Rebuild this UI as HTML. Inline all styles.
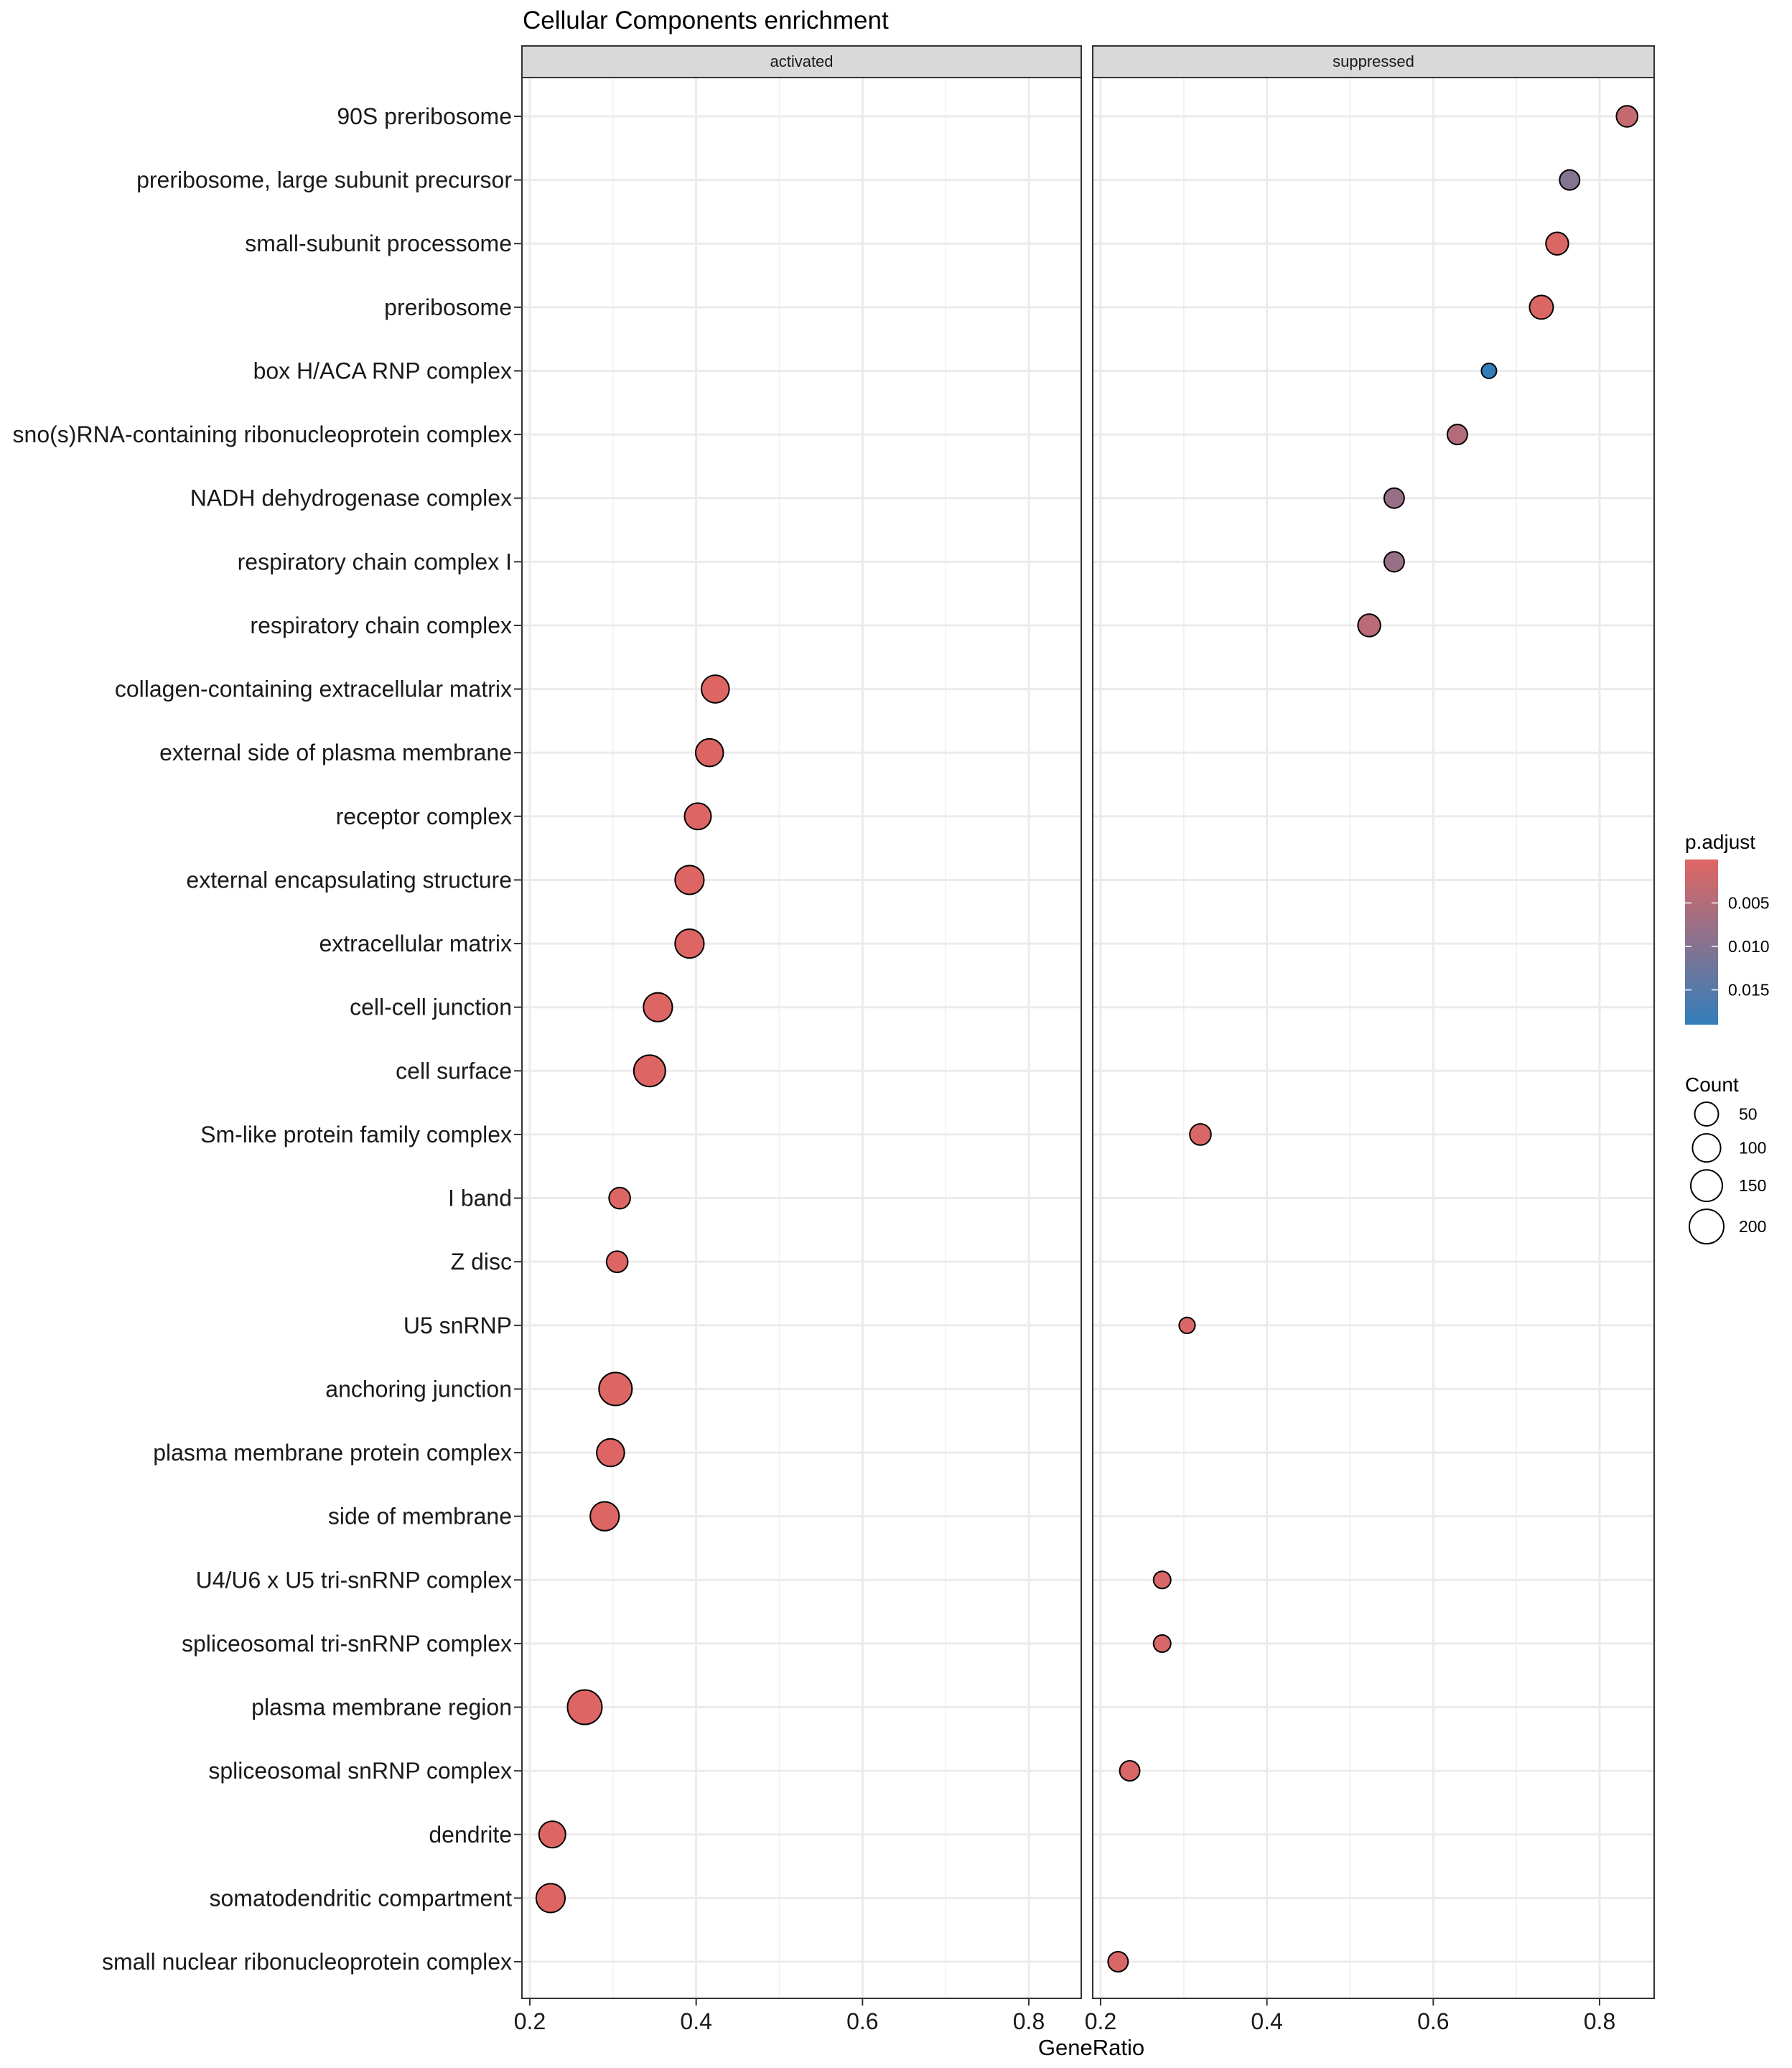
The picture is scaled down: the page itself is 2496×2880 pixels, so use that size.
<!DOCTYPE html>
<html><head><meta charset="utf-8"><style>
html,body{margin:0;padding:0;background:#fff}
svg{display:block;font-family:"Liberation Sans",Arial,sans-serif}
</style></head><body>
<svg id="chart" width="2496" height="2880" viewBox="0 0 2496 2880" xmlns="http://www.w3.org/2000/svg">
<text x="728" y="40" font-size="35" fill="#000">Cellular Components enrichment</text>
<g id="g"></g>
</svg>
<script>
const terms = ["90S preribosome","preribosome, large subunit precursor","small-subunit processome","preribosome","box H/ACA RNP complex","sno(s)RNA-containing ribonucleoprotein complex","NADH dehydrogenase complex","respiratory chain complex I","respiratory chain complex","collagen-containing extracellular matrix","external side of plasma membrane","receptor complex","external encapsulating structure","extracellular matrix","cell-cell junction","cell surface","Sm-like protein family complex","I band","Z disc","U5 snRNP","anchoring junction","plasma membrane protein complex","side of membrane","U4/U6 x U5 tri-snRNP complex","spliceosomal tri-snRNP complex","plasma membrane region","spliceosomal snRNP complex","dendrite","somatodendritic compartment","small nuclear ribonucleoprotein complex"];
const panels = ["activated","suppressed"];
const pointPanel = [1,1,1,1,1,1,1,1,1,0,0,0,0,0,0,0,1,0,0,1,0,0,0,1,1,0,1,0,0,1];
const geneRatio = [0.833,0.764,0.749,0.730,0.667,0.629,0.553,0.553,0.523,0.423,0.416,0.402,0.392,0.392,0.354,0.344,0.320,0.308,0.305,0.304,0.303,0.297,0.290,0.274,0.274,0.266,0.235,0.227,0.225,0.221];
const counts = [30,22,40,50,2,22,22,22,40,94,94,80,110,110,110,150,30,30,30,4,175,94,110,8,8,200,22,80,110,22];
const pAdjust = [0.003,0.010,0.0005,0.0005,0.019,0.005,0.008,0.008,0.004,0.0003,0.0003,0.0003,0.0003,0.0003,0.0003,0.0003,0.0008,0.0003,0.0003,0.0008,0.0003,0.0003,0.0003,0.0008,0.0008,0.0003,0.0008,0.0003,0.0003,0.0008];
const xTicks = [0.2,0.4,0.6,0.8];
const xMinor = [0.3,0.5,0.7];
const pTicks = [0.005,0.010,0.015];
const sizeBreaks = [50,100,150,200];

const NS="http://www.w3.org/2000/svg";
const g=document.getElementById('g');
function mk(tag,attrs,parent){const e=document.createElementNS(NS,tag);for(const k in attrs)e.setAttribute(k,attrs[k]);(parent||g).appendChild(e);return e;}
const panelL=[727,1522], panelR=[1506,2304], panelTop=108, panelBot=2783;
const x0=[738,1533], unit=(1433-738)/0.6;
function xs(p,v){return x0[p]+(v-0.2)*unit;}
function ys(i){return 162+i*(2732-162)/29;}
function rs(c){return 9+1.06*Math.sqrt(c);}
const pMax=0.019;
function col(p){const t=Math.max(0,Math.min(1,p/pMax));const a=[224,102,99],b=[50,126,186];return `rgb(${a.map((v,i)=>Math.round(v+(b[i]-v)*t)).join(',')})`;}

panels.forEach((name,p)=>{
  const pg=mk('g',{});
  
  
  mk('rect',{x:panelL[p],y:panelTop,width:panelR[p]-panelL[p],height:panelBot-panelTop,fill:'#fff'},pg);
  xMinor.forEach(v=>mk('line',{x1:xs(p,v),x2:xs(p,v),y1:panelTop,y2:panelBot,stroke:'#f0f0f0','stroke-width':1.6},pg));
  xTicks.forEach(v=>mk('line',{x1:xs(p,v),x2:xs(p,v),y1:panelTop,y2:panelBot,stroke:'#ebebeb','stroke-width':3},pg));
  terms.forEach((t,i)=>mk('line',{x1:panelL[p],x2:panelR[p],y1:ys(i),y2:ys(i),stroke:'#ebebeb','stroke-width':3},pg));
  mk('rect',{x:panelL[p],y:panelTop,width:panelR[p]-panelL[p],height:panelBot-panelTop,fill:'none',stroke:'#333','stroke-width':2},pg);
  const s=mk('rect',{x:panelL[p],y:64,width:panelR[p]-panelL[p],height:44,fill:'#d9d9d9',stroke:'#333','stroke-width':2},pg);
  
  
  const st=mk('text',{x:(panelL[p]+panelR[p])/2,y:93,'font-size':22,'text-anchor':'middle',fill:'#1a1a1a'},pg);
  st.textContent=name;
  
  
  xTicks.forEach(v=>{
    mk('line',{x1:xs(p,v),x2:xs(p,v),y1:panelBot,y2:panelBot+10,stroke:'#333','stroke-width':2},pg);
    const tx=mk('text',{x:xs(p,v),y:2826,'font-size':32,'text-anchor':'middle',fill:'#1a1a1a'},pg);
    tx.textContent=v.toFixed(1);
    
    
  });
});
terms.forEach((t,i)=>{
  mk('line',{x1:716,x2:727,y1:ys(i),y2:ys(i),stroke:'#333','stroke-width':2});
  const tx=mk('text',{x:713,y:ys(i)+11,'font-size':32,'text-anchor':'end',fill:'#1a1a1a'});
  tx.textContent=t;
  
  
});
terms.forEach((t,i)=>{
  const c=mk('circle',{cx:xs(pointPanel[i],geneRatio[i]),cy:ys(i),r:rs(counts[i]),fill:col(pAdjust[i]),stroke:'#000','stroke-width':2});
  
  
});
const xt=mk('text',{x:1520,y:2862,'font-size':31,'text-anchor':'middle',fill:'#000'});
xt.textContent='GeneRatio';



const defs=mk('defs',{});
const lg=mk('linearGradient',{id:'cb',x1:0,y1:0,x2:0,y2:1},defs);
mk('stop',{offset:0,'stop-color':col(0)},lg);
mk('stop',{offset:1,'stop-color':col(pMax)},lg);
const lt=mk('text',{x:2347,y:1182,'font-size':28,fill:'#000'});
lt.textContent='p.adjust';


const cbTop=1197,cbBot=1427;
const cb=mk('rect',{x:2347,y:cbTop,width:46,height:cbBot-cbTop,fill:'url(#cb)'});


pTicks.forEach(v=>{
  const y=cbTop+(v/pMax)*(cbBot-cbTop);
  mk('line',{x1:2347,x2:2356,y1:y,y2:y,stroke:'#fff','stroke-width':1.5});
  mk('line',{x1:2384,x2:2393,y1:y,y2:y,stroke:'#fff','stroke-width':1.5});
  const tx=mk('text',{x:2407,y:y+8,'font-size':23,fill:'#000'});
  tx.textContent=v.toFixed(3);
  
  
});
const ct=mk('text',{x:2347,y:1520,'font-size':28,fill:'#000'});
ct.textContent='Count';


let yy=1535;
sizeBreaks.forEach(v=>{
  const r=rs(v); yy+=r;
  const c=mk('circle',{cx:2377,cy:yy,r:r,fill:'none',stroke:'#000','stroke-width':2});
  
  
  const tx=mk('text',{x:2422,y:yy+8,'font-size':23,fill:'#000'});
  tx.textContent=v;
  
  
  yy+=r+11;
});
</script>
</body></html>
